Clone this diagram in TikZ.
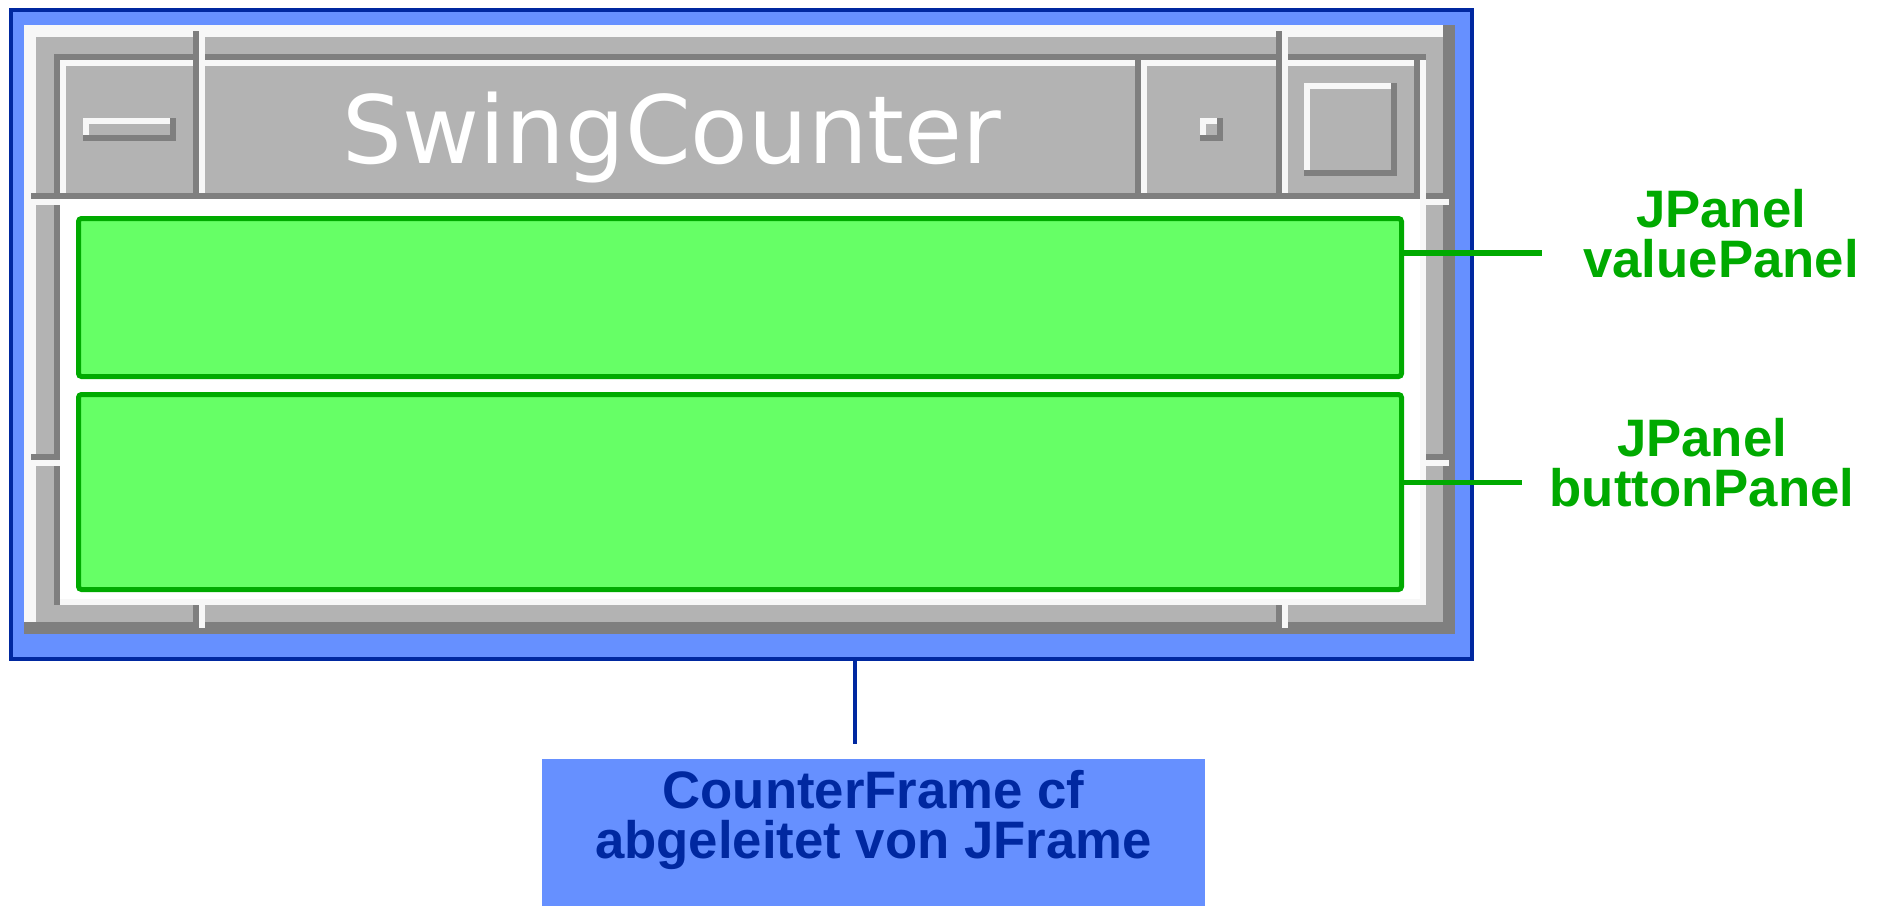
\documentclass[tikz,border=0pt]{standalone}
\usepackage{fontspec}
\setmainfont{Liberation Sans}
\newfontfamily\titlefont{DejaVu Sans}
\usetikzlibrary{positioning}
\definecolor{winblue}{RGB}{102,144,255}
\definecolor{navy}{RGB}{0,40,160}
\definecolor{panelfill}{RGB}{102,255,102}
\definecolor{panelgreen}{RGB}{0,170,0}
\definecolor{mgray}{RGB}{179,179,179}
\definecolor{mdark}{RGB}{127,127,127}
\definecolor{mlight}{RGB}{247,247,247}
\tikzset{
  winframe/.style={draw=navy,fill=winblue,line width=0.4mm,inner sep=0pt},
  panel/.style={draw=panelgreen,fill=panelfill,line width=0.5mm,rounded corners=0.3mm,
    inner sep=0pt,minimum width=132.3mm},
  greenline/.style={draw=panelgreen,line width=0.55mm},
  blueline/.style={draw=navy,line width=0.45mm},
  greenlabel/.style={text=panelgreen,font=\fontsize{15pt}{14.2pt}\selectfont\bfseries,
    align=center,inner sep=0pt,anchor=base},
  cfbox/.style={fill=winblue,text=navy,font=\fontsize{15pt}{14.2pt}\selectfont\bfseries,
    align=center,inner sep=0pt,minimum width=66.3mm,text height=10mm,text depth=6mm,anchor=north},
  titletext/.style={text=white,font=\titlefont\fontsize{26.8pt}{30pt}\selectfont,inner sep=0pt,anchor=base},
}
% motif bevel: x0 y0 x1 y1 width
\newcommand{\motifbox}[5]{%
  \fill[mdark] (#1,#2) rectangle (#3,#4);
  \fill[mlight] (#1,#2) rectangle (#3-#5,#4-#5);
  \fill[mgray] (#1+#5,#2+#5) rectangle (#3-#5,#4-#5);
}

\begin{document}
\begin{tikzpicture}[x=0.1mm,y=-0.1mm]
\useasboundingbox (0,0) rectangle (1881,905);

\node[winframe,minimum width=146.1mm,minimum height=64.9mm] (win) at (741.5,334.5) {};

% window decoration
\motifbox{24}{25}{1455}{634}{12}
\fill[mlight] (54,54) rectangle (1426,605);
\fill[mdark] (54,54) rectangle (1426,60);
\fill[mdark] (54,54) rectangle (60,605);
\fill[white] (60,60) rectangle (1420,599);
\motifbox{60}{60}{199}{199}{6}
\motifbox{199}{60}{1141}{199}{6}
\motifbox{1141}{60}{1282}{199}{6}
\motifbox{1282}{60}{1420}{199}{6}
\motifbox{83}{118}{176}{141}{6}
\motifbox{1200}{118}{1223}{141}{6}
\motifbox{1304}{83}{1397}{176}{6}

% resize marks
\fill[mdark] (193,31) rectangle (199,54);   \fill[mlight] (199,31) rectangle (205,60);
\fill[mdark] (1276,31) rectangle (1282,54); \fill[mlight] (1282,31) rectangle (1288,60);
\fill[mdark] (193,605) rectangle (199,628); \fill[mlight] (199,605) rectangle (205,628);
\fill[mdark] (1276,605) rectangle (1282,628); \fill[mlight] (1282,605) rectangle (1288,628);
\fill[mdark] (31,193) rectangle (54,199);   \fill[mlight] (31,199) rectangle (60,205);
\fill[mdark] (31,454) rectangle (54,460);   \fill[mlight] (31,460) rectangle (60,466);
\fill[mdark] (1426,193) rectangle (1449,199); \fill[mlight] (1420,199) rectangle (1449,205);
\fill[mdark] (1426,454) rectangle (1449,460); \fill[mlight] (1420,460) rectangle (1449,466);

\node[titletext] (title) at (672,163) {SwingCounter};

% panels
\node[panel,minimum height=15.8mm] (value) at (740,297.5) {};
\node[panel,minimum height=19.5mm] (button) at (740,492) {};

\node[greenlabel] (vlabel) at (1721,277) {JPanel\\valuePanel};
\node[greenlabel] (blabel) at (1702,506) {JPanel\\buttonPanel};
\node[cfbox] (cf) at (873.5,758) {CounterFrame cf\\abgeleitet von JFrame};

\coordinate (vend) at (1542,253);
\coordinate (bend) at (1522,482.5);
\coordinate (cfend) at (855,744);
\draw[greenline] (value.east |- vend) -- (vend);
\draw[greenline] (button.east |- bend) -- (bend);
\draw[blueline] (win.south -| cfend) -- (cfend);

\end{tikzpicture}
\end{document}
